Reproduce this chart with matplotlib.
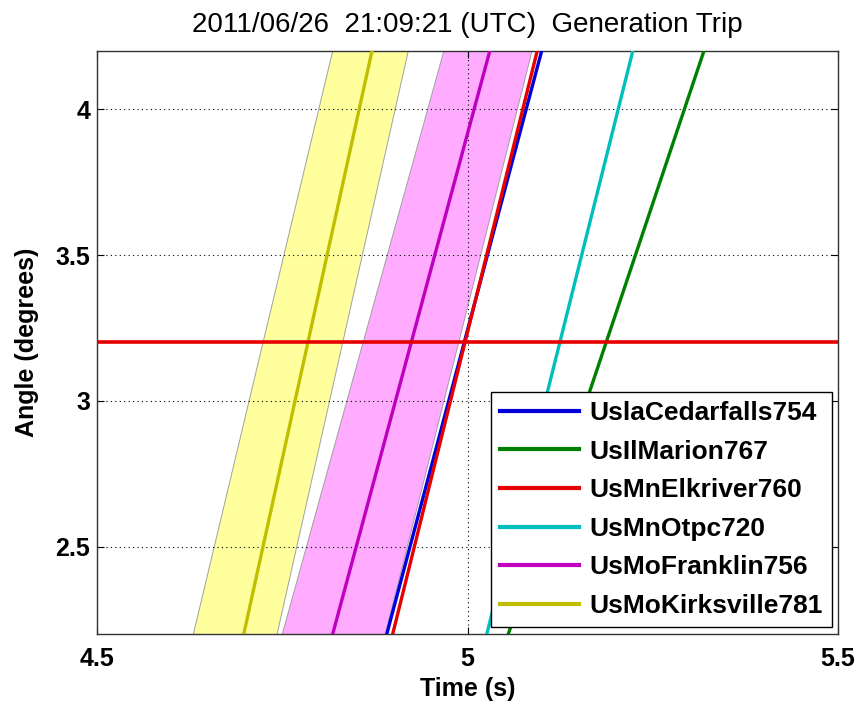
import matplotlib

matplotlib.use("Agg")

import matplotlib.pyplot as plt

plt.rcParams["font.family"] = ["Liberation Sans", "DejaVu Sans"]

# angle at the bottom and top of the view, and the time each trace crosses it
angle_ends = [2.2, 4.2]

stations = [
    "UsIaCedarfalls754",
    "UsIlMarion767",
    "UsMnElkriver760",
    "UsMnOtpc720",
    "UsMoFranklin756",
    "UsMoKirksville781",
]
labels = [
    "UslaCedarfalls754",
    "UsIlMarion767",
    "UsMnElkriver760",
    "UsMnOtpc720",
    "UsMoFranklin756",
    "UsMoKirksville781",
]
times = {
    "UsIaCedarfalls754": [4.891, 5.100],
    "UsIlMarion767": [5.055, 5.319],
    "UsMnElkriver760": [4.899, 5.094],
    "UsMnOtpc720": [5.026, 5.223],
    "UsMoFranklin756": [4.818, 5.030],
    "UsMoKirksville781": [4.698, 4.871],
}
colors = {
    "UsIaCedarfalls754": (0.0, 0.0, 0.85),
    "UsIlMarion767": (0.0, 0.5, 0.0),
    "UsMnElkriver760": (0.9, 0.0, 0.0),
    "UsMnOtpc720": (0.0, 0.75, 0.75),
    "UsMoFranklin756": (0.75, 0.0, 0.75),
    "UsMoKirksville781": (0.75, 0.75, 0.0),
}

# uncertainty bands (left / right edge times at bottom and top)
band_kirksville_lo = [4.630, 4.818]
band_kirksville_hi = [4.743, 4.920]
band_franklin_lo = [4.750, 4.968]
band_franklin_hi = [4.889, 5.087]

threshold = 3.2

fig = plt.figure(figsize=(8.59, 7.08), dpi=100)
ax = fig.add_axes([0.113, 0.1045, 0.8626, 0.8235])

ax.fill_betweenx(angle_ends, band_kirksville_lo, band_kirksville_hi,
                 facecolor=(1.0, 1.0, 0.0), alpha=0.38, edgecolor="none", zorder=1)
ax.fill_betweenx(angle_ends, band_franklin_lo, band_franklin_hi,
                 facecolor=(1.0, 0.0, 1.0), alpha=0.33, edgecolor="none", zorder=1)
for edge in (band_kirksville_lo, band_kirksville_hi, band_franklin_lo, band_franklin_hi):
    ax.plot(edge, angle_ends, color="#a0a0a0", lw=0.7, zorder=1.5)

for st, lab in zip(stations, labels):
    ax.plot(times[st], angle_ends, color=colors[st], lw=2.4, label=lab, zorder=3)

ax.axhline(threshold, color=(0.9, 0.0, 0.0), lw=2.6, zorder=3)

ax.set_xlim(4.5, 5.5)
ax.set_ylim(2.2, 4.2)
ax.set_xticks([4.5, 5, 5.5])
ax.set_xticklabels(["4.5", "5", "5.5"])
ax.set_yticks([2.5, 3, 3.5, 4])
ax.set_yticklabels(["2.5", "3", "3.5", "4"])
ax.grid(True, color="black", linestyle=(0, (1, 3)), lw=0.8)
ax.tick_params(direction="in", top=True, right=True, labelsize=18, length=5, width=0.8)
ax.tick_params(axis="x", pad=9)
ax.tick_params(axis="y", pad=5)
for t in ax.get_xticklabels() + ax.get_yticklabels():
    t.set_fontweight("bold")
for s in ax.spines.values():
    s.set_linewidth(1.0)
    s.set_color("#333333")

ax.set_xlabel("Time (s)", fontsize=18, fontweight="bold", labelpad=5)
ax.set_ylabel("Angle (degrees)", fontsize=18, fontweight="bold", labelpad=12)
ax.set_title("2011/06/26  21:09:21 (UTC)  Generation Trip", fontsize=20, pad=14)

leg = ax.legend(loc="lower right", bbox_to_anchor=(0.992, 0.012),
                prop={"weight": "bold", "size": 19}, fancybox=False, framealpha=1,
                edgecolor="black", handlelength=3.0, labelspacing=0.55,
                borderpad=0.35, handletextpad=0.4, borderaxespad=0.0)
leg.get_frame().set_linewidth(1.0)
for line in leg.get_lines():
    line.set_linewidth(3)

fig.savefig("out.png", dpi=100)
plt.close(fig)
